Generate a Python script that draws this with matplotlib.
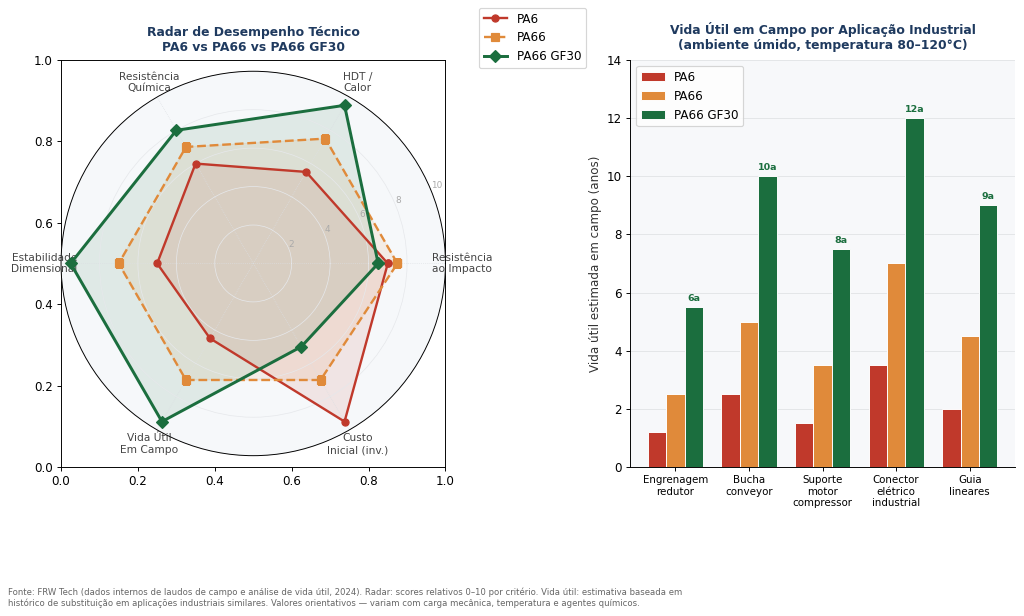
import numpy as np
import matplotlib.pyplot as plt

# Radar data (scores 0-10)
criterios = ['Resistência\nao Impacto', 'HDT /\nCalor', 'Resistência\nQuímica',
             'Estabilidade\nDimensional', 'Vida Útil\nEm Campo', 'Custo\nInicial (inv.)']
pa6_radar = [7.0, 5.5, 6.0, 5.0, 4.5, 9.5]
pa66_radar = [7.5, 7.5, 7.0, 7.0, 7.0, 7.0]
gf30_radar = [6.5, 9.5, 8.0, 9.5, 9.5, 5.0]

# Field life data (years)
aplicacoes = ['Engrenagem\nredutor', 'Bucha\nconveyor', 'Suporte\nmotor\ncompressor',
              'Conector\nelétrico\nindustrial', 'Guia\nlineares']
pa6_vida = [1.2, 2.5, 1.5, 3.5, 2.0]
pa66_vida = [2.5, 5.0, 3.5, 7.0, 4.5]
gf30_vida = [5.5, 10.0, 7.5, 12.0, 9.0]

materiais = ['PA6', 'PA66', 'PA66 GF30']
cores = ['#c0392b', '#e08a3a', '#1b6e3e']
titulo_cor = '#1f3a5f'

dpi = 1024 / 12
fig, (ax0, ax1) = plt.subplots(1, 2, figsize=(12, 616 / dpi), dpi=dpi)
plt.subplots_adjust(left=0.0596, right=0.991, bottom=0.242, top=0.9026, wspace=0.481)

# --- Radar ---
ax = fig.add_subplot(1, 2, 1, polar=True)
ax.set_facecolor('#f6f8fa')
n = len(criterios)
angles = np.linspace(0, 2 * np.pi, n, endpoint=False).tolist()
angles += angles[:1]

estilos = [dict(ls='-', marker='o', lw=2, ms=6),
           dict(ls='--', marker='s', lw=2, ms=6),
           dict(ls='-', marker='D', lw=2.5, ms=7)]
for vals, cor, nome, st in zip([pa6_radar, pa66_radar, gf30_radar], cores, materiais, estilos):
    v = vals + vals[:1]
    ax.plot(angles, v, color=cor, label=nome, **st)
    ax.fill(angles, v, color=cor, alpha=0.1)

ax.set_xticks(angles[:-1])
ax.set_xticklabels(criterios, fontsize=9, color='#444444')
ax.set_ylim(0, 10)
ax.set_yticks([2, 4, 6, 8, 10])
ax.set_yticklabels(['2', '4', '6', '8', '10'], fontsize=7.5, color='#aaaaaa')
ax.yaxis.grid(True, color='#e6e8eb', linewidth=0.6)
ax.xaxis.grid(True, color='#dcdfe3', linewidth=0.6, linestyle=':')
ax.spines['polar'].set_linewidth(0.8)
ax.set_title('Radar de Desempenho Técnico\nPA6 vs PA66 vs PA66 GF30',
             fontsize=10.5, fontweight='bold', color=titulo_cor, pad=17)
handles, labels = ax.get_legend_handles_labels()
fig.legend(handles, labels, loc='upper right', bbox_to_anchor=(0.578, 0.997), fontsize=10)

# --- Bars ---
x = np.arange(len(aplicacoes))
w = 0.25
ax1.set_facecolor('#f7f8fa')
for i, (vals, cor, nome) in enumerate(zip([pa6_vida, pa66_vida, gf30_vida], cores, materiais)):
    bars = ax1.bar(x + (i - 1) * w, vals, w, color=cor, label=nome, edgecolor='white', linewidth=0.8, zorder=3)
    if i == 2:
        for b, v in zip(bars, vals):
            ax1.text(b.get_x() + b.get_width() / 2, v + 0.15, f'{v:.0f}a', ha='center', va='bottom',
                     fontsize=8, fontweight='bold', color=cor)

ax1.set_xticks(x)
ax1.set_xticklabels(aplicacoes, fontsize=8.7)
ax1.set_ylim(0, 14)
ax1.set_ylabel('Vida útil estimada em campo (anos)', fontsize=10, color='#333333')
ax1.set_title('Vida Útil em Campo por Aplicação Industrial\n(ambiente úmido, temperatura 80–120°C)',
              fontsize=10.5, fontweight='bold', color=titulo_cor, pad=9)
ax1.grid(axis='y', color='#e3e5e8', linewidth=0.8, zorder=0)
ax1.spines['top'].set_visible(False)
ax1.spines['right'].set_visible(False)
ax1.legend(loc='upper left', fontsize=10)

fig.text(0.008, 0.013,
         'Fonte: FRW Tech (dados internos de laudos de campo e análise de vida útil, 2024). Radar: scores relativos 0–10 por critério. Vida útil: estimativa baseada em\n'
         'histórico de substituição em aplicações industriais similares. Valores orientativos — variam com carga mecânica, temperatura e agentes químicos.',
         fontsize=7.2, color='#666666', ha='left', va='bottom')

fig.savefig('out.png', dpi=dpi)
